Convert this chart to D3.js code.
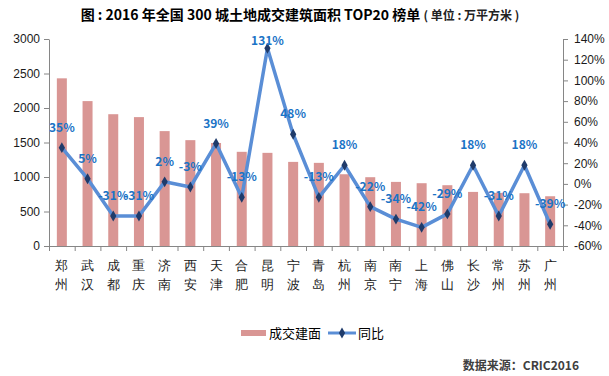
<!DOCTYPE html>
<html>
<head>
<meta charset="utf-8">
<script src="https://cdn.jsdelivr.net/npm/d3@7"></script>
<style>
  body { margin: 0; background: #fff; }
  svg { font-family: "Noto Sans CJK SC", "Noto Sans", sans-serif; }
  .axis path, .axis line { stroke: #868686; }
  .axis text { fill: #1a1a1a; font-size: 12px; }
</style>
</head>
<body>
<div id="chart"></div>
<script>
/* data */
var cities = ["郑州","武汉","成都","重庆","济南","西安","天津","合肥","昆明","宁波",
              "青岛","杭州","南京","南宁","上海","佛山","长沙","常州","苏州","广州"];
var area = [2430, 2100, 1910, 1868, 1665, 1534, 1493, 1365, 1350, 1219,
            1205, 1040, 997, 929, 910, 881, 784, 770, 765, 721];
var yoy = [35, 5, -31, -31, 2, -3, 39, -13, 131, 48,
           -13, 18, -22, -34, -42, -29, 18, -31, 18, -39];
var leftTicks = [0, 500, 1000, 1500, 2000, 2500, 3000];
var rightTicks = [-60, -40, -20, 0, 20, 40, 60, 80, 100, 120, 140];

/* margin convention */
var margin = { top: 39, right: 46, bottom: 130, left: 49 };
var W = 609, H = 376;
var width = W - margin.left - margin.right;
var height = H - margin.top - margin.bottom;

var svg = d3.select("#chart").append("svg")
  .attr("width", W)
  .attr("height", H);

var g = svg.append("g")
  .attr("transform", "translate(" + margin.left + "," + margin.top + ")");

/* scales */
var x = d3.scaleBand().domain(cities).range([0, width]).padding(0);
var xEdge = d3.scaleLinear().domain([0, cities.length]).range([0, width]);
var y = d3.scaleLinear().domain([0, 3000]).range([height, 0]);
var y2 = d3.scaleLinear().domain([-60, 140]).range([height, 0]);

/* axes */
g.append("g")
  .attr("class", "y axis")
  .call(d3.axisLeft(y).tickValues(leftTicks).tickSizeInner(5).tickSizeOuter(0).tickPadding(4)
        .tickFormat(d3.format("d")));

g.append("g")
  .attr("class", "y2 axis")
  .attr("transform", "translate(" + width + ",0)")
  .call(d3.axisRight(y2).tickValues(rightTicks).tickSizeInner(5).tickSizeOuter(0).tickPadding(6)
        .tickFormat(function(d){ return d + "%"; }));

g.append("g")
  .attr("class", "x axis")
  .attr("transform", "translate(0," + height + ")")
  .call(d3.axisBottom(xEdge).tickValues(d3.range(cities.length + 1)).tickSizeInner(5).tickSizeOuter(0).tickFormat(""));

var xLab = g.append("g")
  .attr("class", "x axis labels")
  .attr("transform", "translate(0," + height + ")")
  .call(d3.axisBottom(x).tickSize(0).tickFormat(""));
xLab.select(".domain").remove();
xLab.selectAll(".tick").append("text")
  .attr("fill", "#000")
  .style("font-size", "13px")
  .attr("text-anchor", "middle")
  .selectAll("tspan")
  .data(function(d){ return d.split(""); })
  .enter().append("tspan")
    .attr("x", 0)
    .attr("y", function(d, i){ return 24 + i * 19; })
    .text(function(d){ return d; });

/* bars */
var bw = 10;
g.selectAll("rect.bar").data(area)
  .enter().append("rect")
    .attr("class", "bar")
    .attr("x", function(d, i){ return x(cities[i]) + x.bandwidth() / 2 - bw / 2; })
    .attr("y", function(d){ return y(d); })
    .attr("width", bw)
    .attr("height", function(d){ return height - y(d); })
    .attr("fill", "#d99694");

/* line */
var line = d3.line()
  .x(function(d, i){ return x(cities[i]) + x.bandwidth() / 2; })
  .y(function(d){ return y2(d); });

g.append("path")
  .datum(yoy)
  .attr("d", line)
  .attr("fill", "none")
  .attr("stroke", "#5a8ed6")
  .attr("stroke-width", 3.5)
  .attr("stroke-linejoin", "round");

var diamond = d3.symbol().type(d3.symbolDiamond).size(34);
g.selectAll("path.pt").data(yoy)
  .enter().append("path")
    .attr("class", "pt")
    .attr("d", diamond)
    .attr("transform", function(d, i){
      return "translate(" + (x(cities[i]) + x.bandwidth() / 2) + "," + y2(d) + ")";
    })
    .attr("fill", "#1f3b6b");

// labels sit above the point, kept inside the plot area
g.selectAll("text.lbl").data(yoy)
  .enter().append("text")
    .attr("class", "lbl")
    .attr("x", function(d, i){ return x(cities[i]) + x.bandwidth() / 2; })
    .attr("y", function(d){ return Math.max(y2(d) - 16, 6); })
    .attr("text-anchor", "middle")
    .attr("fill", "#1a73c6")
    .style("font-size", "12px")
    .style("font-weight", "bold")
    .text(function(d){ return d + "%"; });

/* title */
var title = svg.append("text")
  .attr("x", 300)
  .attr("y", 20)
  .attr("text-anchor", "middle")
  .style("font-weight", "bold")
  .style("font-size", "14px")
  .attr("fill", "#000");
title.append("tspan").text("图 : 2016 年全国 300 城土地成交建筑面积 TOP20 榜单 ");
title.append("tspan").style("font-size", "12px").attr("fill", "#222").text("( 单位 : 万平方米 )");

/* legend */
var leg = svg.append("g").attr("transform", "translate(0,333)");
leg.append("rect").attr("x", 241).attr("y", -3).attr("width", 25).attr("height", 6).attr("fill", "#d99694");
leg.append("text").attr("x", 269).attr("y", 5).style("font-size", "13px").attr("fill", "#000").text("成交建面");
leg.append("line").attr("x1", 328).attr("x2", 356).attr("y1", 0).attr("y2", 0)
  .attr("stroke", "#5a8ed6").attr("stroke-width", 3);
leg.append("path").attr("d", diamond).attr("transform", "translate(342,0)").attr("fill", "#1f3b6b");
leg.append("text").attr("x", 358).attr("y", 5).style("font-size", "13px").attr("fill", "#000").text("同比");

/* source */
svg.append("text")
  .attr("x", 579)
  .attr("y", 370)
  .attr("text-anchor", "end")
  .style("font-size", "12px")
  .style("font-weight", "bold")
  .attr("fill", "#404040")
  .text("数据来源：CRIC2016");
</script>
</body>
</html>
